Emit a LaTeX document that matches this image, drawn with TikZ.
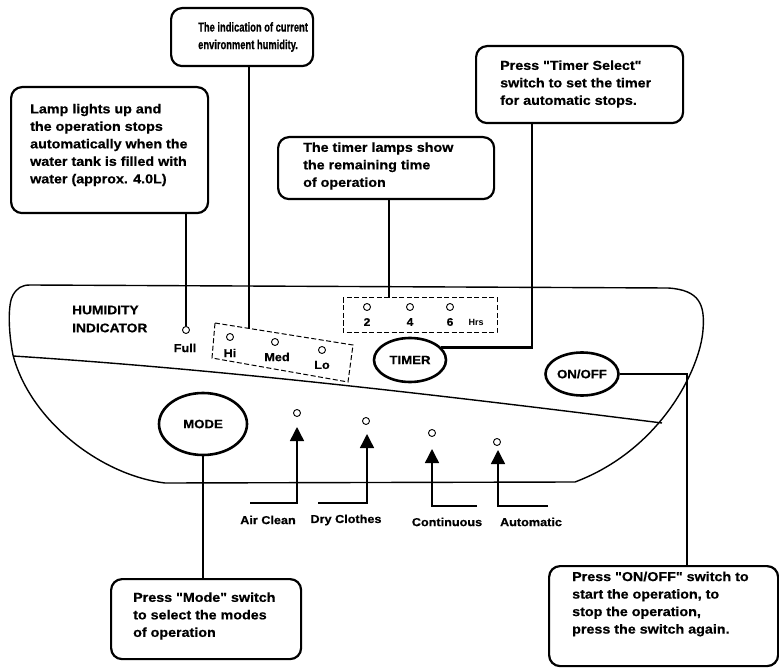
\documentclass[tikz,border=0pt]{standalone}
\usepackage{fontspec}
\setmainfont{Liberation Sans}
\newfontfamily\wide{Liberation Sans}[FakeStretch=1.1,FakeBold=0.6]
\newfontfamily\narrow{Liberation Sans}[FakeStretch=0.72,FakeBold=0.6]
\usetikzlibrary{shapes.geometric,arrows.meta,calc}
\begin{document}
\begin{tikzpicture}[x=1pt,y=-1pt,
  box/.style={draw, line width=2.2pt, rounded corners=11pt, anchor=north west, inner sep=0pt},
  txt/.style={anchor=west, align=left, inner sep=0pt, font=\wide\bfseries\fontsize{13}{17.5}\selectfont},
  conn/.style={line width=2.8pt},
  oval/.style={draw, ellipse, line width=2.6pt, inner sep=0pt, font=\wide\bfseries\fontsize{12}{14}\selectfont},
  lamp/.style={draw, circle, line width=0.9pt, minimum size=7pt, inner sep=0pt},
  lbl/.style={inner sep=0pt, font=\wide\bfseries\fontsize{11.5}{13}\selectfont},
  outl/.style={line width=1.4pt},
  panel/.style={line width=1pt, dash pattern=on 5pt off 2.5pt},
  modeline/.style={line width=1.4pt, -{Triangle[width=14pt,length=14pt]}}
]
\useasboundingbox (0,0) rectangle (779,668);

% body outline
\draw[outl] (30,285) -- (668,288) .. controls (700,290) and (705,305) .. (703,330)
  .. controls (700,370) and (660,450) .. (575,482) -- (165,483)
  .. controls (100,475) and (30,420) .. (13,355)
  .. controls (8,330) and (8,303) .. (13,295)
  .. controls (17,288) and (22,285) .. (30,285) -- cycle;
\draw[outl] (13,356) .. controls (200,368) and (400,390) .. (662,423);

% callout boxes
\node[box, minimum width=197pt, minimum height=126pt] (b1) at (10,86) {};
\node[txt] (t1) at (30,145) {Lamp lights up and\\the operation stops\\automatically when the\\water tank is filled with\\water (approx. 4.0L)};

\node[box, minimum width=142pt, minimum height=58pt] (b2) at (170,7) {};
\node[txt, font=\narrow\bfseries\fontsize{13}{17.5}\selectfont] (t2) at (198,37) {The indication of current\\environment humidity.};

\node[box, minimum width=207pt, minimum height=77pt] (b3) at (475,45) {};
\node[txt] (t3) at (500,84) {Press "Timer Select"\\switch to set the timer\\for automatic stops.};

\node[box, minimum width=216pt, minimum height=62pt] (b4) at (277,136) {};
\node[txt] (t4) at (303,166) {The timer lamps show\\the remaining time\\of operation};

\node[box, minimum width=190pt, minimum height=80pt] (b5) at (110,578) {};
\node[txt] (t5) at (133,616) {Press "Mode" switch\\to select the modes\\of operation};

\node[box, minimum width=229pt, minimum height=100pt] (b6) at (548,565) {};
\node[txt] (t6) at (572,604) {Press "ON/OFF" switch to\\start the operation, to\\stop the operation,\\press the switch again.};

% humidity indicator
\node[lbl, anchor=west, align=left, font=\wide\bfseries\fontsize{12.5}{18}\selectfont] (hum) at (72,319) {HUMIDITY\\INDICATOR};
\node[lamp] (full) at (186,330) {};
\node[lbl] (fulllbl) at (185,348) {Full};

\draw[panel] (215,323) -- (353,345) -- (348,382) -- (212,358) -- cycle;
\coordinate (hp) at (249,328.5);
\node[lamp] (hil) at (230,337) {};
\node[lbl] (hit) at (230,353) {Hi};
\node[lamp] (medl) at (275,342) {};
\node[lbl] (medt) at (277,357) {Med};
\node[lamp] (lol) at (322,350) {};
\node[lbl] (lot) at (322,365) {Lo};

% timer panel
\draw[panel] (343,298) rectangle (497,332);
\coordinate (tp) at (389,298);
\node[lamp] (l2) at (367,307) {};
\node[lbl, font=\wide\bfseries\fontsize{11}{13}\selectfont] (n2) at (367,322) {2};
\node[lamp] (l4) at (410,307) {};
\node[lbl, font=\wide\bfseries\fontsize{11}{13}\selectfont] (n4) at (410,322) {4};
\node[lamp] (l6) at (450,307) {};
\node[lbl, font=\wide\bfseries\fontsize{11}{13}\selectfont] (n6) at (450,322) {6};
\node[lbl, font=\bfseries\fontsize{9}{11}\selectfont] (hrs) at (476,322) {Hrs};

% ellipses
\node[oval, minimum width=72pt, minimum height=44pt] (timer) at (410,360) {TIMER};
\node[oval, minimum width=88pt, minimum height=62pt] (mode) at (203,424) {MODE};
\node[oval, minimum width=73pt, minimum height=43pt] (onoff) at (582,374) {ON/OFF};

% callout connectors
\draw[conn] (b1.south -| full) -- (full.north);
\draw[conn] (b2.south -| hp) -- (hp);
\draw[conn] (b4.south -| tp) -- (tp);
\coordinate (c3) at (532,122);
\draw[conn] (c3) |- (timer.22);
\coordinate (c6) at (687,565);
\draw[conn] (onoff.east) -| (c6);
\draw[conn] (mode.south) -- (mode.south |- b5.north);

% mode lamps and arrows
\node[lamp] (mac) at (297,413) {};
\node[lamp] (mdc) at (366,421) {};
\node[lamp] (mco) at (432,433) {};
\node[lamp] (mau) at (497,442) {};
\coordinate (aac) at (297,427);
\coordinate (adc) at (367,434);
\coordinate (aco) at (432,449);
\coordinate (aau) at (498,450);
\coordinate (eac) at (250,503);
\coordinate (edc) at (318,503);
\coordinate (eco) at (477,506);
\coordinate (eau) at (548,506);
\draw[modeline] (eac) -| (aac);
\draw[modeline] (edc) -| (adc);
\draw[modeline] (eco) -| (aco);
\draw[modeline] (eau) -| (aau);
\node[lbl] (lac) at (268,520) {Air Clean};
\node[lbl] (ldc) at (346,520) {Dry Clothes};
\node[lbl] (lco) at (447,522) {Continuous};
\node[lbl] (lau) at (531,522) {Automatic};
\end{tikzpicture}
\end{document}
